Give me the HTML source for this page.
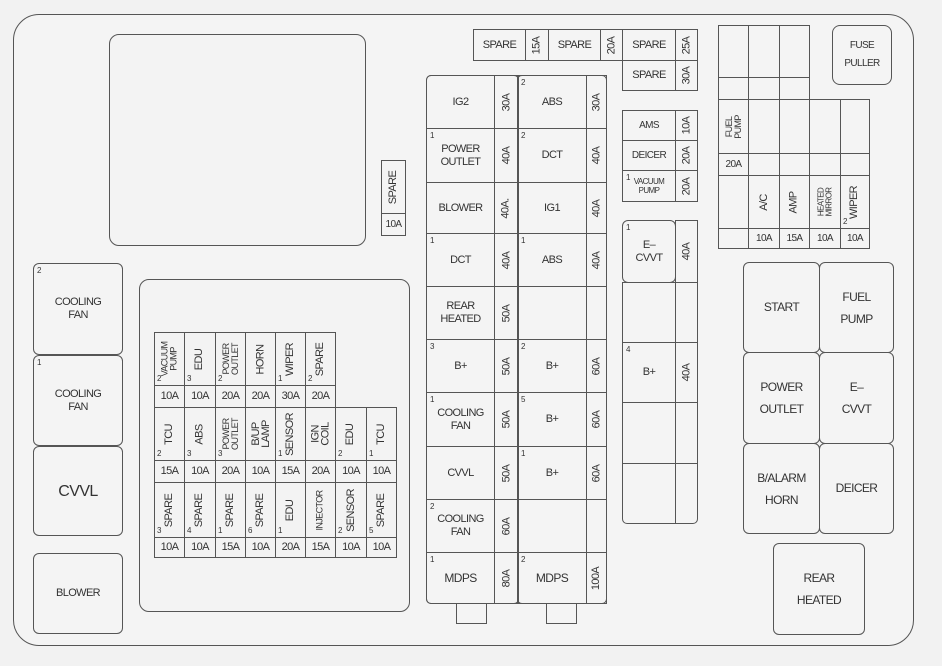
<!DOCTYPE html>
<html><head><meta charset="utf-8"><style>
body{margin:0;width:942px;height:666px;background:#f2f2f2;position:relative;overflow:hidden;font-family:"Liberation Sans",sans-serif;color:#333}
.b{position:absolute;box-sizing:border-box;border:1px solid #555;background:#f3f3f3}
.c{position:absolute;box-sizing:border-box;border:1px solid #555;display:flex;align-items:center;justify-content:center;text-align:center;font-size:11px;line-height:13px;letter-spacing:-0.6px}
.v span{display:block;transform:rotate(-90deg);white-space:nowrap}
.n{position:absolute;font-size:8px;line-height:8px;left:3px;top:3px;letter-spacing:0}
.nb{position:absolute;font-size:8px;line-height:8px;left:2px;bottom:2px;letter-spacing:0}
.r{border-radius:6px}
</style></head><body>
<!-- outer -->
<div class="b" style="left:13px;top:14px;width:901px;height:632px;border-radius:26px;background:#f4f4f4"></div>
<div class="b r" style="left:109px;top:34px;width:257px;height:212px;border-radius:10px"></div>
<div class="c v" style="left:381px;top:160px;width:25px;height:54px"><span>SPARE</span></div>
<div class="c" style="left:381px;top:213px;width:25px;height:23px;font-size:10px">10A</div>
<div class="b" style="left:139px;top:279px;width:271px;height:333px;border-radius:10px"></div>

<!-- left relays -->
<div class="c r" style="left:33px;top:263px;width:90px;height:92px">COOLING<br>FAN<i class="n" style="font-style:normal">2</i></div>
<div class="c r" style="left:33px;top:355px;width:90px;height:91px">COOLING<br>FAN<i class="n" style="font-style:normal">1</i></div>
<div class="c r" style="left:33px;top:446px;width:90px;height:90px;font-size:16px">CVVL</div>
<div class="c r" style="left:33px;top:553px;width:90px;height:81px">BLOWER</div>

<!-- lower small grid row 1 -->
<div class="c v" style="left:154px;top:332px;width:31px;height:54px;font-size:9px;line-height:9px"><span>VACUUM<br>PUMP</span><i class="nb" style="font-style:normal">2</i></div>
<div class="c v" style="left:184px;top:332px;width:32px;height:54px"><span>EDU</span><i class="nb" style="font-style:normal">3</i></div>
<div class="c v" style="left:215px;top:332px;width:31px;height:54px;font-size:9px;line-height:9px"><span>POWER<br>OUTLET</span><i class="nb" style="font-style:normal">2</i></div>
<div class="c v" style="left:245px;top:332px;width:31px;height:54px"><span>HORN</span></div>
<div class="c v" style="left:275px;top:332px;width:31px;height:54px"><span>WIPER</span><i class="nb" style="font-style:normal">1</i></div>
<div class="c v" style="left:305px;top:332px;width:31px;height:54px"><span>SPARE</span><i class="nb" style="font-style:normal">2</i></div>
<div class="c" style="left:154px;top:385px;width:31px;height:23px">10A</div>
<div class="c" style="left:184px;top:385px;width:32px;height:23px">10A</div>
<div class="c" style="left:215px;top:385px;width:31px;height:23px">20A</div>
<div class="c" style="left:245px;top:385px;width:31px;height:23px">20A</div>
<div class="c" style="left:275px;top:385px;width:31px;height:23px">30A</div>
<div class="c" style="left:305px;top:385px;width:31px;height:23px">20A</div>
<!-- row 2 -->
<div class="c v" style="left:154px;top:407px;width:31px;height:54px"><span>TCU</span><i class="nb" style="font-style:normal">2</i></div>
<div class="c v" style="left:184px;top:407px;width:32px;height:54px"><span>ABS</span><i class="nb" style="font-style:normal">3</i></div>
<div class="c v" style="left:215px;top:407px;width:31px;height:54px;font-size:9px;line-height:9px"><span>POWER<br>OUTLET</span><i class="nb" style="font-style:normal">3</i></div>
<div class="c v" style="left:245px;top:407px;width:31px;height:54px;line-height:10px"><span>B/UP<br>LAMP</span></div>
<div class="c v" style="left:275px;top:407px;width:31px;height:54px"><span>SENSOR</span><i class="nb" style="font-style:normal">1</i></div>
<div class="c v" style="left:305px;top:407px;width:31px;height:54px;line-height:10px"><span>IGN<br>COIL</span></div>
<div class="c v" style="left:335px;top:407px;width:32px;height:54px"><span>EDU</span><i class="nb" style="font-style:normal">2</i></div>
<div class="c v" style="left:366px;top:407px;width:31px;height:54px"><span>TCU</span><i class="nb" style="font-style:normal">1</i></div>
<div class="c" style="left:154px;top:460px;width:31px;height:23px">15A</div>
<div class="c" style="left:184px;top:460px;width:32px;height:23px">10A</div>
<div class="c" style="left:215px;top:460px;width:31px;height:23px">20A</div>
<div class="c" style="left:245px;top:460px;width:31px;height:23px">10A</div>
<div class="c" style="left:275px;top:460px;width:31px;height:23px">15A</div>
<div class="c" style="left:305px;top:460px;width:31px;height:23px">20A</div>
<div class="c" style="left:335px;top:460px;width:32px;height:23px">10A</div>
<div class="c" style="left:366px;top:460px;width:31px;height:23px">10A</div>
<!-- row 3 -->
<div class="c v" style="left:154px;top:482px;width:31px;height:56px"><span>SPARE</span><i class="nb" style="font-style:normal">3</i></div>
<div class="c v" style="left:184px;top:482px;width:32px;height:56px"><span>SPARE</span><i class="nb" style="font-style:normal">4</i></div>
<div class="c v" style="left:215px;top:482px;width:31px;height:56px"><span>SPARE</span><i class="nb" style="font-style:normal">1</i></div>
<div class="c v" style="left:245px;top:482px;width:31px;height:56px"><span>SPARE</span><i class="nb" style="font-style:normal">6</i></div>
<div class="c v" style="left:275px;top:482px;width:31px;height:56px"><span>EDU</span><i class="nb" style="font-style:normal">1</i></div>
<div class="c v" style="left:305px;top:482px;width:31px;height:56px;font-size:9px"><span>INJECTOR</span></div>
<div class="c v" style="left:335px;top:482px;width:32px;height:56px"><span>SENSOR</span><i class="nb" style="font-style:normal">2</i></div>
<div class="c v" style="left:366px;top:482px;width:31px;height:56px"><span>SPARE</span><i class="nb" style="font-style:normal">5</i></div>
<div class="c" style="left:154px;top:537px;width:31px;height:21px">10A</div>
<div class="c" style="left:184px;top:537px;width:32px;height:21px">10A</div>
<div class="c" style="left:215px;top:537px;width:31px;height:21px">15A</div>
<div class="c" style="left:245px;top:537px;width:31px;height:21px">10A</div>
<div class="c" style="left:275px;top:537px;width:31px;height:21px">20A</div>
<div class="c" style="left:305px;top:537px;width:31px;height:21px">15A</div>
<div class="c" style="left:335px;top:537px;width:32px;height:21px">10A</div>
<div class="c" style="left:366px;top:537px;width:31px;height:21px">10A</div>

<!-- top spare row -->
<div class="c" style="left:473px;top:29px;width:53px;height:32px">SPARE</div>
<div class="c v" style="left:525px;top:29px;width:24px;height:32px"><span>15A</span></div>
<div class="c" style="left:548px;top:29px;width:53px;height:32px">SPARE</div>
<div class="c v" style="left:600px;top:29px;width:23px;height:32px"><span>20A</span></div>
<div class="c" style="left:622px;top:29px;width:54px;height:32px">SPARE</div>
<div class="c v" style="left:675px;top:29px;width:23px;height:32px"><span>25A</span></div>
<div class="c" style="left:622px;top:60px;width:54px;height:31px">SPARE</div>
<div class="c v" style="left:675px;top:60px;width:23px;height:31px"><span>30A</span></div>

<!-- central block -->
<div class="b" style="left:426px;top:75px;width:93px;height:529px;border-radius:5px;background:none"></div>
<div class="b" style="left:517px;top:75px;width:90px;height:529px;border-radius:5px;background:none"></div>
<div class="c" style="left:426px;top:75px;width:69px;height:54px;border-radius:5px 0 0 0">IG2</div>
<div class="c v" style="left:494px;top:75px;width:25px;height:54px"><span>30A</span></div>
<div class="c" style="left:517px;top:75px;width:70px;height:54px">ABS<i class="n" style="font-style:normal">2</i></div>
<div class="c v" style="left:586px;top:75px;width:21px;height:54px"><span>30A</span></div>

<div class="c" style="left:426px;top:128px;width:69px;height:55px">POWER<br>OUTLET<i class="n" style="font-style:normal">1</i></div>
<div class="c v" style="left:494px;top:128px;width:25px;height:55px"><span>40A</span></div>
<div class="c" style="left:517px;top:128px;width:70px;height:55px">DCT<i class="n" style="font-style:normal">2</i></div>
<div class="c v" style="left:586px;top:128px;width:21px;height:55px"><span>40A</span></div>

<div class="c" style="left:426px;top:182px;width:69px;height:52px">BLOWER</div>
<div class="c v" style="left:494px;top:182px;width:25px;height:52px"><span>40A.</span></div>
<div class="c" style="left:517px;top:182px;width:70px;height:52px">IG1</div>
<div class="c v" style="left:586px;top:182px;width:21px;height:52px"><span>40A</span></div>

<div class="c" style="left:426px;top:233px;width:69px;height:54px">DCT<i class="n" style="font-style:normal">1</i></div>
<div class="c v" style="left:494px;top:233px;width:25px;height:54px"><span>40A</span></div>
<div class="c" style="left:517px;top:233px;width:70px;height:54px">ABS<i class="n" style="font-style:normal">1</i></div>
<div class="c v" style="left:586px;top:233px;width:21px;height:54px"><span>40A</span></div>

<div class="c" style="left:426px;top:286px;width:69px;height:54px">REAR<br>HEATED</div>
<div class="c v" style="left:494px;top:286px;width:25px;height:54px"><span>50A</span></div>
<div class="c" style="left:517px;top:286px;width:70px;height:54px"></div>
<div class="c" style="left:586px;top:286px;width:21px;height:54px"></div>

<div class="c" style="left:426px;top:339px;width:69px;height:54px">B+<i class="n" style="font-style:normal">3</i></div>
<div class="c v" style="left:494px;top:339px;width:25px;height:54px"><span>50A</span></div>
<div class="c" style="left:517px;top:339px;width:70px;height:54px">B+<i class="n" style="font-style:normal">2</i></div>
<div class="c v" style="left:586px;top:339px;width:21px;height:54px"><span>60A</span></div>

<div class="c" style="left:426px;top:392px;width:69px;height:55px">COOLING<br>FAN<i class="n" style="font-style:normal">1</i></div>
<div class="c v" style="left:494px;top:392px;width:25px;height:55px"><span>50A</span></div>
<div class="c" style="left:517px;top:392px;width:70px;height:55px">B+<i class="n" style="font-style:normal">5</i></div>
<div class="c v" style="left:586px;top:392px;width:21px;height:55px"><span>60A</span></div>

<div class="c" style="left:426px;top:446px;width:69px;height:54px">CVVL</div>
<div class="c v" style="left:494px;top:446px;width:25px;height:54px"><span>50A</span></div>
<div class="c" style="left:517px;top:446px;width:70px;height:54px">B+<i class="n" style="font-style:normal">1</i></div>
<div class="c v" style="left:586px;top:446px;width:21px;height:54px"><span>60A</span></div>

<div class="c" style="left:426px;top:499px;width:69px;height:54px">COOLING<br>FAN<i class="n" style="font-style:normal">2</i></div>
<div class="c v" style="left:494px;top:499px;width:25px;height:54px"><span>60A</span></div>
<div class="c" style="left:517px;top:499px;width:70px;height:54px"></div>
<div class="c" style="left:586px;top:499px;width:21px;height:54px"></div>

<div class="c" style="left:426px;top:552px;width:69px;height:52px;border-radius:0 0 0 5px;font-size:12px">MDPS<i class="n" style="font-style:normal">1</i></div>
<div class="c v" style="left:494px;top:552px;width:25px;height:52px"><span>80A</span></div>
<div class="c" style="left:517px;top:552px;width:70px;height:52px;font-size:12px">MDPS<i class="n" style="font-style:normal">2</i></div>
<div class="c v" style="left:586px;top:552px;width:21px;height:52px"><span>100A</span></div>
<div class="b" style="left:456px;top:603px;width:31px;height:21px;background:none"></div>
<div class="b" style="left:546px;top:603px;width:31px;height:21px;background:none"></div>

<!-- AMS block -->
<div class="c" style="left:622px;top:110px;width:54px;height:31px;font-size:10px">AMS</div>
<div class="c v" style="left:675px;top:110px;width:23px;height:31px"><span>10A</span></div>
<div class="c" style="left:622px;top:140px;width:54px;height:31px;font-size:10px">DEICER</div>
<div class="c v" style="left:675px;top:140px;width:23px;height:31px"><span>20A</span></div>
<div class="c" style="left:622px;top:170px;width:54px;height:32px;font-size:8px;line-height:9px">VACUUM<br>PUMP<i class="n" style="font-style:normal">1</i></div>
<div class="c v" style="left:675px;top:170px;width:23px;height:32px"><span>20A</span></div>

<!-- E-CVVT column -->
<div class="c r" style="left:622px;top:220px;width:54px;height:63px">E–<br>CVVT<i class="n" style="font-style:normal">1</i></div>
<div class="c v" style="left:675px;top:220px;width:23px;height:63px"><span>40A</span></div>
<div class="c" style="left:622px;top:282px;width:54px;height:61px"></div>
<div class="c" style="left:675px;top:282px;width:23px;height:61px"></div>
<div class="c" style="left:622px;top:342px;width:54px;height:61px">B+<i class="n" style="font-style:normal">4</i></div>
<div class="c v" style="left:675px;top:342px;width:23px;height:61px"><span>40A</span></div>
<div class="c" style="left:622px;top:402px;width:54px;height:62px"></div>
<div class="c" style="left:675px;top:402px;width:23px;height:62px"></div>
<div class="c" style="left:622px;top:463px;width:54px;height:61px;border-radius:0 0 0 5px"></div>
<div class="c" style="left:675px;top:463px;width:23px;height:61px;border-radius:0 0 5px 0"></div>

<!-- right top grid -->
<div class="c" style="left:718px;top:25px;width:31px;height:53px"></div>
<div class="c" style="left:748px;top:25px;width:32px;height:53px"></div>
<div class="c" style="left:779px;top:25px;width:31px;height:53px"></div>
<div class="c" style="left:718px;top:77px;width:31px;height:23px"></div>
<div class="c" style="left:748px;top:77px;width:32px;height:23px"></div>
<div class="c" style="left:779px;top:77px;width:31px;height:23px"></div>
<div class="c v" style="left:718px;top:99px;width:31px;height:55px;font-size:9px;line-height:9px"><span>FUEL<br>PUMP</span></div>
<div class="c" style="left:748px;top:99px;width:32px;height:55px"></div>
<div class="c" style="left:779px;top:99px;width:31px;height:55px"></div>
<div class="c" style="left:809px;top:99px;width:32px;height:55px"></div>
<div class="c" style="left:840px;top:99px;width:30px;height:55px"></div>
<div class="c" style="left:718px;top:153px;width:31px;height:23px;font-size:10px">20A</div>
<div class="c" style="left:748px;top:153px;width:32px;height:23px"></div>
<div class="c" style="left:779px;top:153px;width:31px;height:23px"></div>
<div class="c" style="left:809px;top:153px;width:32px;height:23px"></div>
<div class="c" style="left:840px;top:153px;width:30px;height:23px"></div>
<div class="c" style="left:718px;top:175px;width:31px;height:54px"></div>
<div class="c v" style="left:748px;top:175px;width:32px;height:54px"><span>A/C</span></div>
<div class="c v" style="left:779px;top:175px;width:31px;height:54px"><span>AMP</span></div>
<div class="c v" style="left:809px;top:175px;width:32px;height:54px;font-size:8px;line-height:8px"><span>HEATED<br>MIRROR</span></div>
<div class="c v" style="left:840px;top:175px;width:30px;height:54px"><span>WIPER</span><i class="nb" style="font-style:normal">2</i></div>
<div class="c" style="left:718px;top:228px;width:31px;height:21px"></div>
<div class="c" style="left:748px;top:228px;width:32px;height:21px;font-size:10px">10A</div>
<div class="c" style="left:779px;top:228px;width:31px;height:21px;font-size:10px">15A</div>
<div class="c" style="left:809px;top:228px;width:32px;height:21px;font-size:10px">10A</div>
<div class="c" style="left:840px;top:228px;width:30px;height:21px;font-size:10px">10A</div>
<div class="c" style="left:832px;top:25px;width:60px;height:60px;border-radius:8px;line-height:18px;font-size:10px">FUSE<br>PULLER</div>

<!-- right relays -->
<div class="c r" style="left:743px;top:262px;width:77px;height:91px;font-size:12px">START</div>
<div class="c r" style="left:819px;top:262px;width:75px;height:91px;font-size:12px;line-height:22px">FUEL<br>PUMP</div>
<div class="c r" style="left:743px;top:352px;width:77px;height:92px;font-size:12px;line-height:22px">POWER<br>OUTLET</div>
<div class="c r" style="left:819px;top:352px;width:75px;height:92px;font-size:12px;line-height:22px">E–<br>CVVT</div>
<div class="c r" style="left:743px;top:443px;width:77px;height:91px;font-size:12px;line-height:22px">B/ALARM<br>HORN</div>
<div class="c r" style="left:819px;top:443px;width:75px;height:91px;font-size:12px">DEICER</div>
<div class="c r" style="left:773px;top:543px;width:92px;height:92px;font-size:12px;line-height:22px">REAR<br>HEATED</div>
</body></html>
